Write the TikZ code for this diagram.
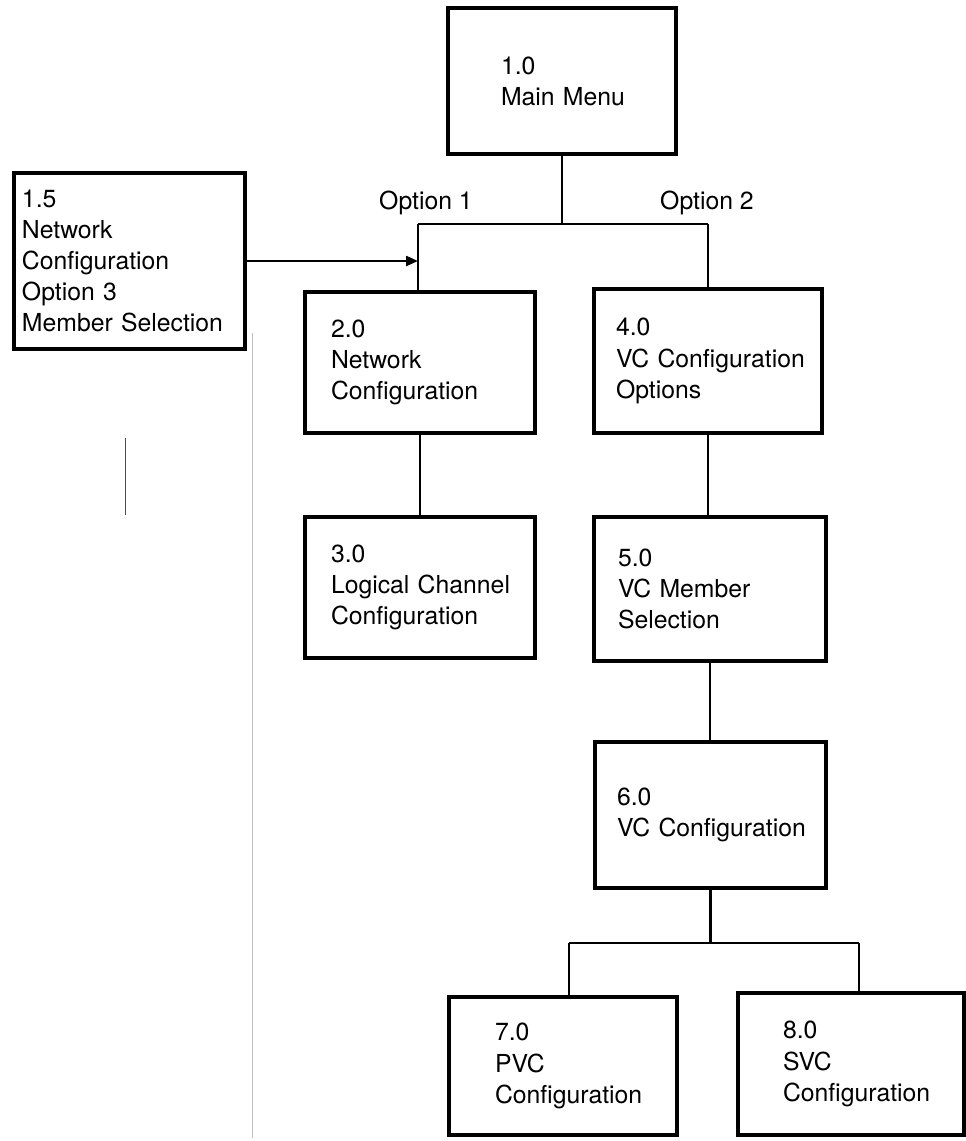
\documentclass[tikz,border=0pt]{standalone}
\usepackage{fontspec}
\setmainfont{TeX Gyre Heros}
\usetikzlibrary{arrows.meta}
\newcommand\menufont{\fontsize{14.1}{17.7}\selectfont}
\hyphenpenalty=10000
\exhyphenpenalty=10000
\tikzset{
  menubox/.style n args={3}{draw, line width=2.1pt, align=left, inner sep=0pt,
    minimum width=#1cm, minimum height=#2cm, text width=#3cm, font=\menufont},
  link/.style={line width=1.3pt},
  optlabel/.style={inner sep=0pt, font=\menufont},
}
\begin{document}
\begin{tikzpicture}
  \useasboundingbox (0,0) rectangle (19.30,-22.82);

  % Cajas del menu
  \node[menubox={4.56}{2.92}{2.44}] (main) at (11.24,-1.62) {1.0\\Main~Menu};
  \node[menubox={4.62}{3.52}{4.30}] (netopt) at (2.59,-5.22)
    {1.5\\Network\\Configuration\\Option~3\\Member~Selection};
  \node[menubox={4.60}{2.82}{3.56}] (netcfg) at (8.40,-7.25) {2.0\\Network\\Configuration};
  \node[menubox={4.60}{2.82}{3.56}] (lchan) at (8.40,-11.75) {3.0\\Logical~Channel\\Configuration};
  \node[menubox={4.56}{2.88}{3.68}] (vcopt) at (14.16,-7.22) {4.0\\VC~Configuration\\Options};
  \node[menubox={4.64}{2.88}{3.68}] (vcmem) at (14.20,-11.78) {5.0\\VC~Member\\Selection};
  \node[menubox={4.62}{2.92}{3.74}] (vccfg) at (14.21,-16.30) {6.0\\VC~Configuration};
  \node[menubox={4.56}{2.76}{2.72}] (pvc) at (11.26,-21.32) {7.0\\PVC\\Configuration};
  \node[menubox={4.52}{2.84}{2.72}] (svc) at (17.02,-21.28) {8.0\\SVC\\Configuration};

  % Opciones del menu principal
  \node[optlabel] (opt1) at (8.52,-4.06) {Option 1};
  \node[optlabel] (opt2) at (14.14,-4.06) {Option 2};

  % Puntos de las barras
  \coordinate (barL) at (8.36,-4.48);
  \coordinate (barR) at (14.16,-4.48);
  \coordinate (forkL) at (11.38,-18.86);
  \coordinate (forkR) at (17.18,-18.86);

  % Conexiones
  \draw[link] (main.south) -- (main.south |- barL);
  \draw[link] (barL) -- (barR);
  \draw[link] (barL) -- (barL |- netcfg.north);
  \draw[link] (barR) -- (barR |- vcopt.north);
  \draw[link,-{Triangle[length=0.24cm,width=0.2cm]}] (netopt.east) -- (netopt.east -| barL);
  \draw[link] (netcfg.south) -- (lchan.north);
  \draw[link] (vcopt.south) -- (vcopt.south |- vcmem.north);
  \draw[link] (vcmem.south) -- (vcmem.south |- vccfg.north);
  \draw[link] (vccfg.south) -- (vccfg.south |- forkL);
  \draw[link] (forkL) -- (forkR);
  \draw[link] (forkL) -- (forkL |- pvc.north);
  \draw[link] (forkR) -- (forkR |- svc.north);

  % Marcas del escaneo
  \draw[black!25, line width=0.4pt] (5.04,-6.66) -- (5.04,-22.76);
  \draw[black!70, line width=0.5pt] (2.50,-8.76) -- (2.50,-10.30);
\end{tikzpicture}
\end{document}
